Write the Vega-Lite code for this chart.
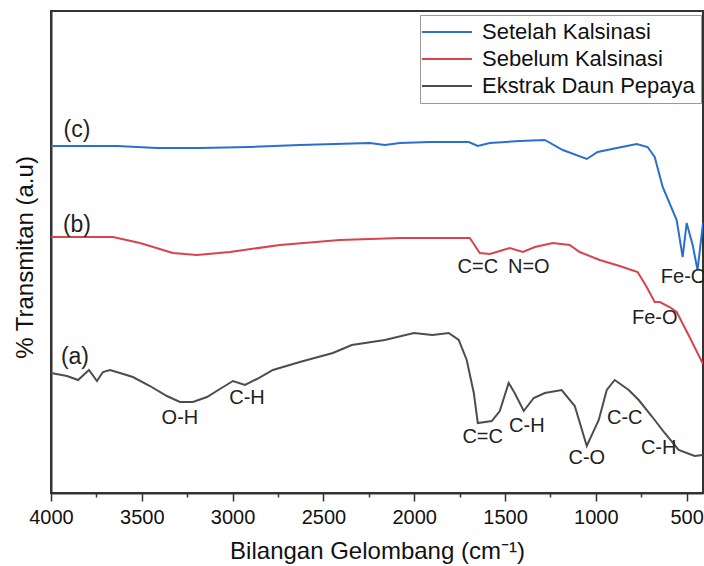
{
  "$schema": "https://vega.github.io/schema/vega-lite/v6.json",
  "autosize": {"type": "none"},
  "padding": {"left": 51, "top": 11, "right": 1, "bottom": 73},
  "width": 652,
  "height": 482,
  "background": "white",
  "config": {
    "font": "Liberation Sans",
    "view": {"stroke": "#333", "strokeWidth": 2},
    "axis": {"grid": false, "domainColor": "#333", "domainWidth": 2, "tickColor": "#333", "labelColor": "#111", "titleColor": "#111", "labelFont": "Liberation Sans", "titleFont": "Liberation Sans", "titleFontWeight": "normal"}
  },
  "datasets": {
    "spectra": [
      {"series": "Setelah Kalsinasi", "wavenumber": 4000, "transmittance": 347},
      {"series": "Setelah Kalsinasi", "wavenumber": 3840, "transmittance": 347},
      {"series": "Setelah Kalsinasi", "wavenumber": 3637, "transmittance": 347},
      {"series": "Setelah Kalsinasi", "wavenumber": 3417, "transmittance": 345},
      {"series": "Setelah Kalsinasi", "wavenumber": 3180, "transmittance": 345},
      {"series": "Setelah Kalsinasi", "wavenumber": 2905, "transmittance": 346},
      {"series": "Setelah Kalsinasi", "wavenumber": 2630, "transmittance": 348},
      {"series": "Setelah Kalsinasi", "wavenumber": 2244, "transmittance": 350},
      {"series": "Setelah Kalsinasi", "wavenumber": 2162, "transmittance": 348},
      {"series": "Setelah Kalsinasi", "wavenumber": 2079, "transmittance": 350},
      {"series": "Setelah Kalsinasi", "wavenumber": 1914, "transmittance": 351},
      {"series": "Setelah Kalsinasi", "wavenumber": 1700, "transmittance": 351},
      {"series": "Setelah Kalsinasi", "wavenumber": 1650, "transmittance": 347},
      {"series": "Setelah Kalsinasi", "wavenumber": 1584, "transmittance": 350},
      {"series": "Setelah Kalsinasi", "wavenumber": 1419, "transmittance": 352},
      {"series": "Setelah Kalsinasi", "wavenumber": 1281, "transmittance": 353},
      {"series": "Setelah Kalsinasi", "wavenumber": 1182, "transmittance": 343},
      {"series": "Setelah Kalsinasi", "wavenumber": 1050, "transmittance": 334},
      {"series": "Setelah Kalsinasi", "wavenumber": 990, "transmittance": 341},
      {"series": "Setelah Kalsinasi", "wavenumber": 885, "transmittance": 345},
      {"series": "Setelah Kalsinasi", "wavenumber": 775, "transmittance": 349},
      {"series": "Setelah Kalsinasi", "wavenumber": 715, "transmittance": 346},
      {"series": "Setelah Kalsinasi", "wavenumber": 676, "transmittance": 336},
      {"series": "Setelah Kalsinasi", "wavenumber": 632, "transmittance": 306},
      {"series": "Setelah Kalsinasi", "wavenumber": 555, "transmittance": 273},
      {"series": "Setelah Kalsinasi", "wavenumber": 522, "transmittance": 236},
      {"series": "Setelah Kalsinasi", "wavenumber": 500, "transmittance": 270},
      {"series": "Setelah Kalsinasi", "wavenumber": 467, "transmittance": 248},
      {"series": "Setelah Kalsinasi", "wavenumber": 440, "transmittance": 223},
      {"series": "Setelah Kalsinasi", "wavenumber": 410, "transmittance": 270},
      {"series": "Sebelum Kalsinasi", "wavenumber": 4000, "transmittance": 256},
      {"series": "Sebelum Kalsinasi", "wavenumber": 3659, "transmittance": 256},
      {"series": "Sebelum Kalsinasi", "wavenumber": 3510, "transmittance": 250},
      {"series": "Sebelum Kalsinasi", "wavenumber": 3329, "transmittance": 240},
      {"series": "Sebelum Kalsinasi", "wavenumber": 3197, "transmittance": 238},
      {"series": "Sebelum Kalsinasi", "wavenumber": 3015, "transmittance": 241},
      {"series": "Sebelum Kalsinasi", "wavenumber": 2740, "transmittance": 248},
      {"series": "Sebelum Kalsinasi", "wavenumber": 2410, "transmittance": 253},
      {"series": "Sebelum Kalsinasi", "wavenumber": 2079, "transmittance": 255},
      {"series": "Sebelum Kalsinasi", "wavenumber": 1694, "transmittance": 255},
      {"series": "Sebelum Kalsinasi", "wavenumber": 1639, "transmittance": 240},
      {"series": "Sebelum Kalsinasi", "wavenumber": 1584, "transmittance": 239},
      {"series": "Sebelum Kalsinasi", "wavenumber": 1529, "transmittance": 242},
      {"series": "Sebelum Kalsinasi", "wavenumber": 1474, "transmittance": 245},
      {"series": "Sebelum Kalsinasi", "wavenumber": 1402, "transmittance": 241},
      {"series": "Sebelum Kalsinasi", "wavenumber": 1336, "transmittance": 246},
      {"series": "Sebelum Kalsinasi", "wavenumber": 1237, "transmittance": 250},
      {"series": "Sebelum Kalsinasi", "wavenumber": 1144, "transmittance": 248},
      {"series": "Sebelum Kalsinasi", "wavenumber": 1089, "transmittance": 241},
      {"series": "Sebelum Kalsinasi", "wavenumber": 979, "transmittance": 233},
      {"series": "Sebelum Kalsinasi", "wavenumber": 869, "transmittance": 227},
      {"series": "Sebelum Kalsinasi", "wavenumber": 770, "transmittance": 221},
      {"series": "Sebelum Kalsinasi", "wavenumber": 720, "transmittance": 206},
      {"series": "Sebelum Kalsinasi", "wavenumber": 676, "transmittance": 191},
      {"series": "Sebelum Kalsinasi", "wavenumber": 648, "transmittance": 191},
      {"series": "Sebelum Kalsinasi", "wavenumber": 594, "transmittance": 186},
      {"series": "Sebelum Kalsinasi", "wavenumber": 555, "transmittance": 181},
      {"series": "Sebelum Kalsinasi", "wavenumber": 484, "transmittance": 156},
      {"series": "Sebelum Kalsinasi", "wavenumber": 410, "transmittance": 129},
      {"series": "Ekstrak Daun Pepaya", "wavenumber": 4000, "transmittance": 120},
      {"series": "Ekstrak Daun Pepaya", "wavenumber": 3912, "transmittance": 117},
      {"series": "Ekstrak Daun Pepaya", "wavenumber": 3851, "transmittance": 113},
      {"series": "Ekstrak Daun Pepaya", "wavenumber": 3791, "transmittance": 123},
      {"series": "Ekstrak Daun Pepaya", "wavenumber": 3747, "transmittance": 112},
      {"series": "Ekstrak Daun Pepaya", "wavenumber": 3714, "transmittance": 121},
      {"series": "Ekstrak Daun Pepaya", "wavenumber": 3675, "transmittance": 123},
      {"series": "Ekstrak Daun Pepaya", "wavenumber": 3620, "transmittance": 120},
      {"series": "Ekstrak Daun Pepaya", "wavenumber": 3549, "transmittance": 116},
      {"series": "Ekstrak Daun Pepaya", "wavenumber": 3455, "transmittance": 107},
      {"series": "Ekstrak Daun Pepaya", "wavenumber": 3362, "transmittance": 97},
      {"series": "Ekstrak Daun Pepaya", "wavenumber": 3290, "transmittance": 91},
      {"series": "Ekstrak Daun Pepaya", "wavenumber": 3219, "transmittance": 91},
      {"series": "Ekstrak Daun Pepaya", "wavenumber": 3141, "transmittance": 96},
      {"series": "Ekstrak Daun Pepaya", "wavenumber": 3070, "transmittance": 104},
      {"series": "Ekstrak Daun Pepaya", "wavenumber": 2998, "transmittance": 112},
      {"series": "Ekstrak Daun Pepaya", "wavenumber": 2932, "transmittance": 108},
      {"series": "Ekstrak Daun Pepaya", "wavenumber": 2866, "transmittance": 114},
      {"series": "Ekstrak Daun Pepaya", "wavenumber": 2778, "transmittance": 123},
      {"series": "Ekstrak Daun Pepaya", "wavenumber": 2630, "transmittance": 131},
      {"series": "Ekstrak Daun Pepaya", "wavenumber": 2448, "transmittance": 140},
      {"series": "Ekstrak Daun Pepaya", "wavenumber": 2344, "transmittance": 148},
      {"series": "Ekstrak Daun Pepaya", "wavenumber": 2162, "transmittance": 153},
      {"series": "Ekstrak Daun Pepaya", "wavenumber": 2002, "transmittance": 160},
      {"series": "Ekstrak Daun Pepaya", "wavenumber": 1900, "transmittance": 158},
      {"series": "Ekstrak Daun Pepaya", "wavenumber": 1810, "transmittance": 160},
      {"series": "Ekstrak Daun Pepaya", "wavenumber": 1755, "transmittance": 153},
      {"series": "Ekstrak Daun Pepaya", "wavenumber": 1711, "transmittance": 133},
      {"series": "Ekstrak Daun Pepaya", "wavenumber": 1672, "transmittance": 100},
      {"series": "Ekstrak Daun Pepaya", "wavenumber": 1650, "transmittance": 70},
      {"series": "Ekstrak Daun Pepaya", "wavenumber": 1573, "transmittance": 72},
      {"series": "Ekstrak Daun Pepaya", "wavenumber": 1529, "transmittance": 82},
      {"series": "Ekstrak Daun Pepaya", "wavenumber": 1480, "transmittance": 110},
      {"series": "Ekstrak Daun Pepaya", "wavenumber": 1447, "transmittance": 100},
      {"series": "Ekstrak Daun Pepaya", "wavenumber": 1397, "transmittance": 82},
      {"series": "Ekstrak Daun Pepaya", "wavenumber": 1342, "transmittance": 95},
      {"series": "Ekstrak Daun Pepaya", "wavenumber": 1281, "transmittance": 100},
      {"series": "Ekstrak Daun Pepaya", "wavenumber": 1188, "transmittance": 103},
      {"series": "Ekstrak Daun Pepaya", "wavenumber": 1116, "transmittance": 87},
      {"series": "Ekstrak Daun Pepaya", "wavenumber": 1050, "transmittance": 47},
      {"series": "Ekstrak Daun Pepaya", "wavenumber": 984, "transmittance": 73},
      {"series": "Ekstrak Daun Pepaya", "wavenumber": 940, "transmittance": 103},
      {"series": "Ekstrak Daun Pepaya", "wavenumber": 896, "transmittance": 113},
      {"series": "Ekstrak Daun Pepaya", "wavenumber": 819, "transmittance": 103},
      {"series": "Ekstrak Daun Pepaya", "wavenumber": 764, "transmittance": 93},
      {"series": "Ekstrak Daun Pepaya", "wavenumber": 693, "transmittance": 77},
      {"series": "Ekstrak Daun Pepaya", "wavenumber": 621, "transmittance": 60},
      {"series": "Ekstrak Daun Pepaya", "wavenumber": 544, "transmittance": 43},
      {"series": "Ekstrak Daun Pepaya", "wavenumber": 456, "transmittance": 37},
      {"series": "Ekstrak Daun Pepaya", "wavenumber": 410, "transmittance": 38}
    ],
    "curveLabels": [
      {"label": "(c)", "wavenumber": 3857, "transmittance": 363},
      {"label": "(b)", "wavenumber": 3857, "transmittance": 268},
      {"label": "(a)", "wavenumber": 3868, "transmittance": 136}
    ],
    "bandLabels": [
      {"label": "O-H", "wavenumber": 3290, "transmittance": 75},
      {"label": "C-H", "wavenumber": 2921, "transmittance": 95},
      {"label": "C=C", "wavenumber": 1650, "transmittance": 226},
      {"label": "N=O", "wavenumber": 1369, "transmittance": 226},
      {"label": "Fe-O", "wavenumber": 517, "transmittance": 216},
      {"label": "Fe-O", "wavenumber": 676, "transmittance": 175},
      {"label": "C=C", "wavenumber": 1623, "transmittance": 56},
      {"label": "C-H", "wavenumber": 1380, "transmittance": 67},
      {"label": "C-O", "wavenumber": 1050, "transmittance": 35},
      {"label": "C-C", "wavenumber": 841, "transmittance": 75},
      {"label": "C-H", "wavenumber": 654, "transmittance": 45}
    ]
  },
  "layer": [
    {
      "data": {"name": "spectra"},
      "mark": {"type": "line", "strokeWidth": 2, "clip": true},
      "encoding": {
        "x": {
          "field": "wavenumber", "type": "quantitative",
          "scale": {"domain": [4000, 410], "nice": false, "zero": false},
          "axis": {
            "title": "Bilangan Gelombang (cm⁻¹)",
            "values": [4000, 3750, 3500, 3250, 3000, 2750, 2500, 2250, 2000, 1750, 1500, 1250, 1000, 750, 500],
            "labelExpr": "datum.value % 500 == 0 ? format(datum.value, 'd') : ''",
            "labelFontSize": 20, "titleFontSize": 24,
            "tickSize": {"condition": {"test": "datum.value % 500 == 0", "value": 8}, "value": 4},
            "tickWidth": 1.5, "labelPadding": 6, "titlePadding": 12,
            "labelFlush": false
          }
        },
        "y": {
          "field": "transmittance", "type": "quantitative",
          "scale": {"domain": [0, 482], "nice": false},
          "axis": {
            "title": "% Transmitan (a.u)", "labels": false, "ticks": false,
            "titleFontSize": 24, "titleX": -26, "titleY": 246, "titleBaseline": "middle", "titleAngle": -90, "titleAnchor": "middle"
          }
        },
        "color": {
          "field": "series", "type": "nominal",
          "scale": {"domain": ["Setelah Kalsinasi", "Sebelum Kalsinasi", "Ekstrak Daun Pepaya"], "range": ["#2a6fcf", "#d9434b", "#4d4d4d"]},
          "legend": {
            "title": null, "orient": "none", "legendX": 369, "legendY": 4,
            "symbolType": "M-3,0H7", "symbolSize": 100, "symbolStrokeWidth": 2,
            "labelFontSize": 22, "labelColor": "#111", "labelOffset": 34, "rowPadding": 5,
            "padding": 6, "strokeColor": "#999", "fillColor": "white", "labelLimit": 400
          }
        }
      }
    },
    {
      "data": {"name": "curveLabels"},
      "mark": {"type": "text", "fontSize": 23, "color": "#222", "baseline": "middle", "align": "center"},
      "encoding": {
        "x": {"field": "wavenumber", "type": "quantitative"},
        "y": {"field": "transmittance", "type": "quantitative"},
        "text": {"field": "label"}
      }
    },
    {
      "data": {"name": "bandLabels"},
      "mark": {"type": "text", "fontSize": 20, "color": "#222", "baseline": "middle", "align": "center"},
      "encoding": {
        "x": {"field": "wavenumber", "type": "quantitative"},
        "y": {"field": "transmittance", "type": "quantitative"},
        "text": {"field": "label"}
      }
    }
  ]
}
